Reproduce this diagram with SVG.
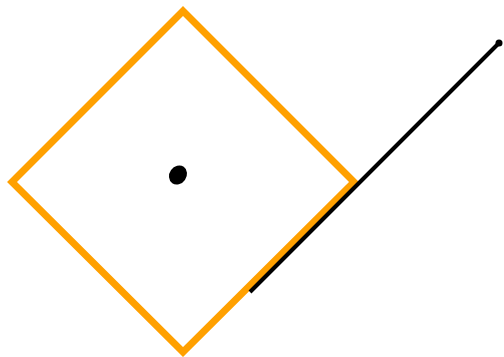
<svg xmlns="http://www.w3.org/2000/svg" width="504" height="357" viewBox="0 0 504 357">
<style>
.diamond{fill:none;stroke:#ffa000;stroke-width:7;stroke-linejoin:miter}
.seg{stroke:#000;stroke-width:4;stroke-linecap:butt}
</style>
<rect width="504" height="357" fill="#fff"/>
<g id="diamond">
<polygon class="diamond" points="183,11 354,182 183,352 12,182"/>
</g>
<g id="center">
<ellipse cx="178" cy="175" rx="8.5" ry="10" transform="rotate(35 178 175)" fill="#000"/>
</g>
<g id="connectors">
<line class="seg" x1="250" y1="292" x2="499" y2="43"/>
<circle cx="499" cy="43" r="3.5" fill="#000"/>
</g>
</svg>
